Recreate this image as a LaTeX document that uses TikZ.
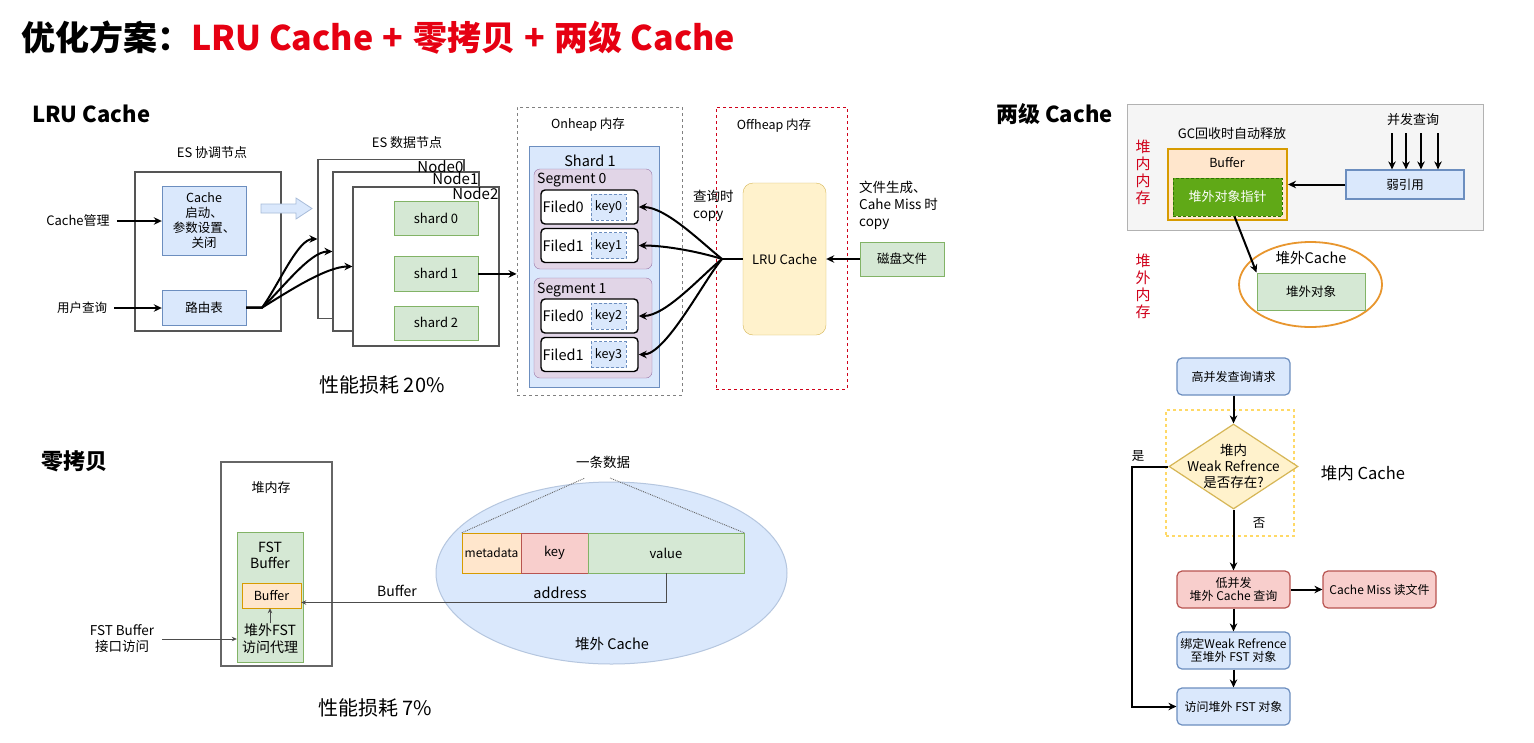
\documentclass[tikz,border=0pt]{standalone}
\usepackage{fontspec}
\setmainfont{Noto Sans CJK SC}
\usetikzlibrary{positioning}
\usetikzlibrary{calc}
\usetikzlibrary{shapes.geometric}
\usetikzlibrary{arrows.meta}

\definecolor{titlered}{HTML}{E60012}
\definecolor{markred}{HTML}{D0021B}
\definecolor{blueF}{HTML}{DAE8FC}
\definecolor{blueD}{HTML}{6C8EBF}
\definecolor{greenF}{HTML}{D5E8D4}
\definecolor{greenD}{HTML}{82B366}
\definecolor{orangeF}{HTML}{FFE6CC}
\definecolor{orangeD}{HTML}{D79B00}
\definecolor{redF}{HTML}{F8CECC}
\definecolor{redD}{HTML}{B85450}
\definecolor{yellowF}{HTML}{FFF2CC}
\definecolor{yellowD}{HTML}{D6B656}
\definecolor{hotD}{HTML}{FFD966}
\definecolor{purpleF}{HTML}{E1D5E7}
\definecolor{purpleD}{HTML}{9673A6}
\definecolor{darkgreenF}{HTML}{60A917}
\definecolor{darkgreenD}{HTML}{2D7600}
\definecolor{frameD}{HTML}{555555}
\definecolor{ringD}{HTML}{E8962E}

\newcommand{\fsz}[2]{\fontsize{#1}{#2}\selectfont}
\newcommand{\plusgap}{\hspace{0.28em}+\hspace{0.28em}}

\begin{document}
\begin{tikzpicture}[
    x=1pt, y=-1pt,
    >={Stealth[length=8pt,width=7.5pt]},
    cell/.style={draw, inner sep=0pt, align=center, font=\fsz{12.5}{14.7}},
    framebox/.style={cell, draw=frameD, line width=1.1pt, fill=white},
    bluebox/.style={cell, fill=blueF, draw=blueD},
    greenbox/.style={cell, fill=greenF, draw=greenD},
    orangebox/.style={cell, fill=orangeF, draw=orangeD},
    redbox/.style={cell, fill=redF, draw=redD},
    flowbox/.style={rounded corners=5pt, line width=1.2pt, minimum width=113pt, minimum height=37pt, font=\fsz{12}{13.5}},
    conn/.style={->, line width=2pt},
    thin conn/.style={-{Stealth[length=5pt,width=4.5pt]}, line width=0.8pt, draw=black!70},
    lbl/.style={inner sep=0pt, align=center, font=\fsz{12.5}{14.7}},
    sechead/.style={inner sep=0pt, anchor=west, font=\bfseries\fsz{22}{26}},
    ]
    \fill[white] (0,0) rectangle (1534,742);
    \useasboundingbox (0,0) rectangle (1534,742);

    \node[anchor=west, inner sep=0pt, font=\bfseries\fsz{34}{40}] (title) at (21,38) {优化方案：\textcolor{titlered}{LRU Cache\plusgap 零拷贝\plusgap 两级 Cache}};

    \node[sechead] (lruhead) at (32,114) {LRU Cache};
    \node[lbl, font=\fsz{13}{15}] (coordlbl) at (212,153) {ES 协调节点};
    \node[framebox, minimum width=146pt, minimum height=159pt] (coord) at (208,251.5) {};
    \node[bluebox, minimum width=84pt, minimum height=69pt] (cachectl) at (204,220.5) {Cache\\启动、\\参数设置、\\关闭};
    \node[bluebox, minimum width=84pt, minimum height=35pt, font=\fsz{12.5}{15}] (route) at (204,307.5) {路由表};
    \node[lbl, font=\fsz{13}{15}] (mgrlbl) at (78,221) {Cache管理};
    \node[lbl] (userlbl) at (82,308) {用户查询};
    \draw[conn, shorten <=7pt] (mgrlbl.east) -- (mgrlbl.east -| cachectl.west);
    \draw[conn, shorten <=7pt] (userlbl.east) -- (userlbl.east -| route.west);
    \draw[draw=blueD!60, fill=blueF, line width=0.8pt] (261,204) -- (296,204) -- (296,198) -- (312,208.5) -- (296,219) -- (296,213) -- (261,213) -- cycle;

    \node[lbl, font=\fsz{13}{15}] (datalbl) at (407,143) {ES 数据节点};
    \foreach \i/\x/\y in {0/391/239, 1/406/251.5, 2/426/266.5}
        \node[framebox, minimum width=146pt, minimum height=159pt] (n\i) at (\x,\y) {};
    \foreach \i in {0,1,2}
        \node[lbl, font=\fsz{15}{17}, anchor=north east, inner sep=1pt] at (n\i.north east) {Node\i};
    \node[greenbox, minimum width=84pt, minimum height=34pt, font=\fsz{13}{15}] (s0) at (436,218) {shard 0};
    \node[greenbox, minimum width=84pt, minimum height=35pt, font=\fsz{13}{15}, below=21pt of s0] (s1) {shard 1};
    \node[greenbox, minimum width=84pt, minimum height=34pt, font=\fsz{13}{15}, below=14pt of s1] (s2) {shard 2};
    \draw[conn] (route.east) -- ++(16,0) .. controls (279,284) and (298,239) .. (n0.west);
    \draw[conn] (route.east) -- ++(16,0) .. controls (282,289) and (310,251.5) .. (n1.west);
    \draw[conn] (route.east) -- ++(16,0) .. controls (286,293) and (326,266.5) .. (n2.west);
    \node[lbl, font=\fsz{20}{24}] (perf20) at (382,385) {性能损耗 20\%};

    \node[cell, draw=gray, dashed, line width=0.9pt, minimum width=165pt, minimum height=288pt] (onheap) at (599.5,251) {};
    \node[lbl] (onlbl) at (588,125) {Onheap 内存};
    \node[bluebox, minimum width=130pt, minimum height=241pt] (shardA) at (594,266.5) {};
    \node[lbl, font=\fsz{14.5}{17}] at (590,161) {Shard 1};
    \node[cell, fill=purpleF, draw=purpleD, rounded corners=6pt, minimum width=118pt, minimum height=100pt] (seg0) at (593,219) {};
    \node[lbl, anchor=west, font=\fsz{14}{16}] at (537,180) {Segment 0};
    \node[cell, fill=purpleF, draw=purpleD, rounded corners=6pt, minimum width=118pt, minimum height=100pt] (seg1) at (593,328) {};
    \node[lbl, anchor=west, font=\fsz{14}{16}] at (537,290) {Segment 1};
    \foreach \nm/\y/\f/\k in {f00/207/Filed0/key0, f01/245.5/Filed1/key1, f10/316/Filed0/key2, f11/354.5/Filed1/key3}{
        \node[cell, fill=white, line width=1.4pt, rounded corners=4pt, minimum width=97pt, minimum height=34pt] (\nm) at (589.5,\y) {};
        \node[lbl, anchor=west, font=\fsz{14.5}{17}] at ([xshift=2pt]\nm.west) {\f};
        \node[cell, fill=blueF, draw=blueD, densely dashed, line width=0.6pt, minimum width=35pt, minimum height=26pt, font=\fsz{12.5}{14}] at ([xshift=19pt]\nm.center) {\k};
    }
    \draw[conn] (s1.east) -- (s1.east -| onheap.west);

    \node[cell, draw=markred, dashed, line width=1pt, minimum width=131pt, minimum height=282pt] (offheap) at (781.5,248) {};
    \node[lbl] (offlbl) at (774,126) {Offheap 内存};
    \node[cell, fill=yellowF, draw=yellowD, rounded corners=10pt, minimum width=83pt, minimum height=152pt, font=\fsz{13}{15}] (lru) at (784.5,259) {LRU Cache};
    \coordinate (fan) at (722,259);
    \draw[line width=2pt] (lru.west) -- (fan);
    \draw[conn] (fan) .. controls (702,243) and (666,207) .. (f00.east);
    \draw[conn] (fan) .. controls (700,252) and (666,245.5) .. (f01.east);
    \draw[conn] (fan) .. controls (702,275) and (666,316) .. (f10.east);
    \draw[conn] (fan) .. controls (704,280) and (666,354.5) .. (f11.east);
    \node[lbl, anchor=west, align=left, font=\fsz{13.5}{17.5}] (qlbl) at (693,206) {查询时\\copy};
    \node[lbl, anchor=west, align=left, font=\fsz{13.5}{17}] (flbl) at (859,205) {文件生成、\\Cahe Miss 时\\copy};
    \node[greenbox, minimum width=84pt, minimum height=34pt] (disk) at (902,259) {磁盘文件};
    \draw[conn] (disk.west) -- (lru.east);

    \node[sechead] (twohead) at (996,114) {两级 Cache};
    \node[cell, fill=black!4, draw=black!30, line width=1pt, minimum width=356pt, minimum height=126pt] (heapzone) at (1305,167) {};
    \node[lbl, text=markred, font=\fsz{15}{17}] at (1143,172.5) {堆\\内\\内\\存};
    \node[lbl, text=markred, font=\fsz{15}{17}] at (1143,286) {堆\\外\\内\\存};
    \node[lbl, font=\fsz{13}{15}] at (1232,134) {GC回收时自动释放};
    \node[orangebox, line width=2pt, minimum width=119pt, minimum height=71pt] (gcbuf) at (1227.5,184.5) {};
    \node[lbl] at (1227,163) {Buffer};
    \node[cell, fill=darkgreenF, draw=darkgreenD, densely dashed, line width=1pt, text=white, minimum width=109pt, minimum height=38pt, font=\fsz{13}{15}] (ptr) at (1227.5,197) {堆外对象指针};
    \node[bluebox, line width=1.2pt, minimum width=118pt, minimum height=29pt] (weak) at (1405,184.5) {弱引用};
    \draw[conn] (weak.west) -- (gcbuf.east);
    \node[lbl, font=\fsz{13}{15}] (conc) at (1413,120) {并发查询};
    \foreach \dx in {-21,-7,8,25}
        \draw[conn] ([xshift=\dx pt, yshift=-7pt]conc.south) -- ([xshift=\dx pt]conc.south |- weak.north);
    \node[ellipse, draw=ringD, line width=1.8pt, minimum width=143pt, minimum height=85pt, inner sep=0pt] (ring) at (1310.5,284.5) {};
    \node[lbl, font=\fsz{14.5}{17}] at (1311,258) {堆外Cache};
    \node[greenbox, line width=1pt, minimum width=108pt, minimum height=37pt] (offobj) at (1311,291.5) {堆外对象};
    \draw[conn] ([xshift=7pt]ptr.south) -- (offobj.north west);

    \node[bluebox, flowbox] (req) at (1233.5,376.5) {高并发查询请求};
    \node[cell, draw=hotD, dashed, line width=1.3pt, minimum width=128pt, minimum height=126pt] (hotzone) at (1230,473) {};
    \node[diamond, draw=yellowD, fill=yellowF, line width=1.2pt, minimum width=129pt, minimum height=85pt, inner sep=0pt] (check) at (1233.5,466.5) {};
    \node[lbl, font=\fsz{13.5}{16.3}] at (check) {堆内\\Weak Refrence\\是否存在?};
    \node[redbox, flowbox] (lowq) at (1233.5,589.5) {低并发\\堆外 Cache 查询};
    \node[redbox, flowbox] (miss) at (1379.5,589.5) {Cache Miss 读文件};
    \node[bluebox, flowbox] (bind) at (1233.5,650.5) {绑定Weak Refrence\\至堆外 FST 对象};
    \node[bluebox, flowbox] (visit) at (1233.5,706.5) {访问堆外 FST 对象};
    \draw[conn] (req.south) -- (check.north);
    \draw[conn] (check.south) -- (lowq.north);
    \draw[conn] (lowq.east) -- (miss.west);
    \draw[conn] (lowq.south) -- (bind.north);
    \draw[conn] (bind.south) -- (visit.north);
    \draw[conn] (check.west) -- ++(-36,0) |- (visit.west);
    \node[lbl] at (1138,456) {是};
    \node[lbl] at (1259,523) {否};
    \node[lbl, font=\fsz{16.5}{19}] at (1363,473) {堆内 Cache};

    \node[sechead] (zerohead) at (41,461) {零拷贝};
    \node[framebox, draw=black!60, minimum width=111pt, minimum height=204pt] (heapmem) at (276.5,564) {};
    \node[lbl, font=\fsz{13}{15}] at (271,488) {堆内存};
    \node[greenbox, minimum width=66pt, minimum height=130pt] (fstbox) at (270,597) {};
    \node[lbl, font=\fsz{14}{16.7}] at (270,555.5) {FST\\Buffer};
    \node[orangebox, minimum width=59pt, minimum height=25pt] (zbuf) at (271.5,595.5) {Buffer};
    \node[lbl, font=\fsz{14}{16.7}] (proxy) at (270,638.5) {堆外FST\\访问代理};
    \draw[thin conn] (proxy.north) -- (proxy.north |- zbuf.south);
    \node[lbl, font=\fsz{13.5}{16}] (iface) at (122,639) {FST Buffer\\接口访问};
    \draw[thin conn, shorten <=8pt] (iface.east) -- (iface.east -| fstbox.west);

    \node[ellipse, draw=blueD!50, fill=blueF, line width=1pt, minimum width=351pt, minimum height=182pt, inner sep=0pt] (offcache) at (611.5,573) {};
    \node[lbl, font=\fsz{13.5}{16}] (onerec) at (603,462) {一条数据};
    \node[orangebox, minimum width=59pt, minimum height=40pt, font=\fsz{12}{14}] (meta) at (491.5,553) {metadata};
    \node[redbox, minimum width=67pt, minimum height=40pt, font=\fsz{13}{15}] (keyb) at (554.5,553) {key};
    \node[greenbox, minimum width=156pt, minimum height=40pt, font=\fsz{13}{15}] (valb) at (666,553) {value};
    \coordinate (recl) at (585,478);
    \coordinate (recr) at (610,478);
    \draw[densely dotted, black!60, line width=0.9pt] (meta.north west) -- (recl);
    \draw[densely dotted, black!60, line width=0.9pt] (valb.north east) -- (recr);
    \draw[thin conn] (valb.south) |- ([yshift=-7pt]zbuf.east);
    \node[lbl, font=\fsz{14.5}{17}] at (560,593) {address};
    \node[lbl, font=\fsz{14}{16}] at (397,591) {Buffer};
    \node[lbl, font=\fsz{14.5}{17}] at (612,644) {堆外 Cache};
    \node[lbl, font=\fsz{20}{24}] (perf7) at (375,708) {性能损耗 7\%};
\end{tikzpicture}
\end{document}
